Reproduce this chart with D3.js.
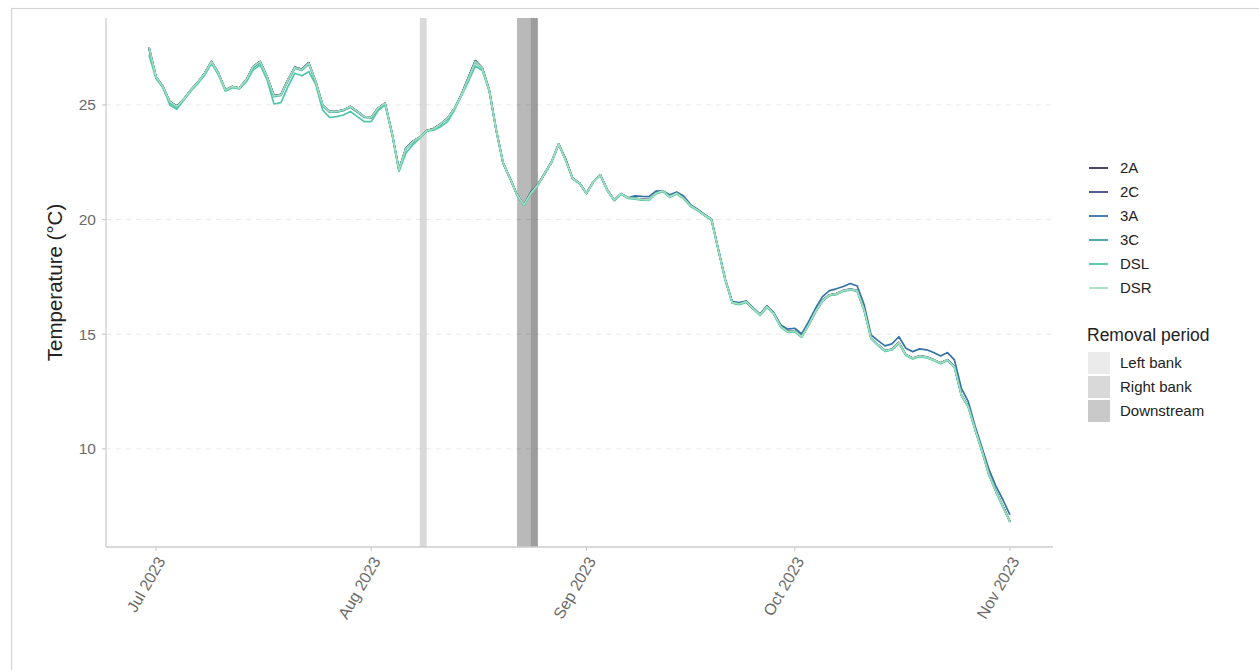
<!DOCTYPE html>
<html><head><meta charset="utf-8">
<script src="https://cdn.jsdelivr.net/npm/d3@7"></script>
<style>body{margin:0;background:#fff;} svg{display:block;font-family:"Liberation Sans",Arial,sans-serif;}</style>
</head><body><svg id="chart" width="1259" height="670"></svg>
<script>
// ---------------- DATA ----------------
const startDate = "2023-06-30";   // first daily reading; one value per day
const seriesNames = ["2A","2C","3A","3C","DSL","DSR"];
const seriesColors = ["#3b2f5e","#40498e","#3572a8","#37a3aa","#4fc6ab","#a0dfb9"];

const t2A = [
27.52,26.23,25.80,25.14,24.95,25.25,25.65,25.97,26.38,26.90,
26.38,25.65,25.80,25.73,26.09,26.68,26.90,26.23,25.41,25.46,
26.09,26.65,26.55,26.84,26.02,25.00,24.71,24.71,24.78,24.93,
24.71,24.49,24.46,24.86,25.08,23.77,22.17,23.13,23.42,23.60,
23.88,23.97,24.17,24.42,24.86,25.46,26.20,26.93,26.62,25.65,
23.91,22.46,21.80,21.08,20.64,21.20,21.53,22.02,22.53,23.30,
22.65,21.80,21.59,21.15,21.66,21.95,21.29,20.85,21.13,20.95,
20.93,20.89,20.87,21.16,21.26,21.01,21.16,20.94,20.61,20.43,
20.21,20.02,18.69,17.38,16.39,16.33,16.43,16.14,15.85,16.21,
15.90,15.34,15.12,15.15,14.90,15.42,16.00,16.48,16.72,16.77,
16.91,16.97,16.91,16.07,14.84,14.54,14.29,14.35,14.64,14.11,
13.96,14.06,14.01,13.89,13.75,13.89,13.60,12.36,11.85,10.84,
9.89,8.87,8.15,7.49,6.84];
const t2C = [
27.50,26.23,25.80,25.14,24.95,25.25,25.65,25.97,26.38,26.89,
26.38,25.65,25.80,25.73,26.09,26.67,26.89,26.23,25.40,25.45,
26.09,26.64,26.54,26.83,26.02,25.00,24.71,24.71,24.78,24.93,
24.71,24.49,24.46,24.86,25.08,23.77,22.17,23.12,23.41,23.59,
23.88,23.96,24.17,24.42,24.86,25.45,26.18,26.91,26.61,25.65,
23.91,22.46,21.80,21.08,20.64,21.18,21.52,22.02,22.53,23.30,
22.62,21.80,21.59,21.15,21.66,21.95,21.29,20.85,21.13,20.95,
20.92,20.88,20.86,21.15,21.25,21.00,21.15,20.93,20.60,20.42,
20.20,20.01,18.68,17.37,16.38,16.32,16.42,16.13,15.84,16.20,
15.89,15.33,15.11,15.14,14.89,15.41,15.99,16.47,16.71,16.76,
16.90,16.96,16.90,16.06,14.83,14.53,14.28,14.34,14.63,14.10,
13.95,14.05,14.00,13.88,13.74,13.88,13.59,12.35,11.84,10.83,
9.88,8.86,8.14,7.48,6.83];
const t3A = [
27.48,26.22,25.79,25.13,24.94,25.25,25.65,25.97,26.38,26.89,
26.38,25.65,25.80,25.73,26.09,26.67,26.89,26.23,25.40,25.45,
26.09,26.64,26.54,26.83,26.02,25.00,24.71,24.71,24.78,24.93,
24.71,24.49,24.46,24.86,25.08,23.77,22.17,23.12,23.41,23.59,
23.88,23.96,24.17,24.42,24.86,25.45,26.18,26.91,26.61,25.65,
23.91,22.46,21.80,21.08,20.64,21.18,21.52,22.02,22.53,23.30,
22.62,21.80,21.59,21.15,21.66,21.95,21.29,20.85,21.13,20.95,
21.03,21.01,21.00,21.24,21.25,21.08,21.20,21.03,20.65,20.45,
20.22,20.03,18.70,17.40,16.42,16.38,16.45,16.16,15.88,16.24,
15.93,15.40,15.22,15.26,15.01,15.55,16.13,16.64,16.90,16.98,
17.08,17.21,17.10,16.28,14.97,14.72,14.49,14.58,14.89,14.39,
14.24,14.36,14.32,14.20,14.05,14.20,13.88,12.64,12.06,10.97,
10.03,9.08,8.36,7.77,7.12];
const t3C = [
27.45,26.20,25.77,25.10,24.90,25.23,25.63,25.95,26.35,26.86,
26.35,25.63,25.78,25.72,26.06,26.63,26.85,26.20,25.36,25.41,
26.05,26.60,26.50,26.78,25.98,24.97,24.68,24.68,24.75,24.90,
24.68,24.46,24.43,24.83,25.06,23.75,22.15,23.09,23.38,23.58,
23.87,23.94,24.15,24.40,24.84,25.43,26.14,26.86,26.58,25.63,
23.90,22.45,21.79,21.07,20.63,21.14,21.50,22.01,22.52,23.29,
22.59,21.79,21.58,21.14,21.65,21.94,21.28,20.84,21.12,20.94,
20.91,20.87,20.85,21.14,21.24,20.99,21.14,20.92,20.59,20.41,
20.19,20.00,18.67,17.36,16.37,16.31,16.41,16.12,15.83,16.19,
15.88,15.32,15.10,15.13,14.88,15.40,15.98,16.46,16.70,16.75,
16.89,16.95,16.89,16.05,14.82,14.52,14.27,14.33,14.62,14.09,
13.94,14.04,13.99,13.87,13.73,13.87,13.58,12.34,11.83,10.82,
9.87,8.85,8.13,7.47,6.82];
const tDSL = [
27.18,26.15,25.75,25.00,24.81,25.20,25.60,25.92,26.30,26.80,
26.30,25.60,25.75,25.70,26.00,26.53,26.74,26.10,25.04,25.10,
25.80,26.38,26.27,26.45,25.90,24.78,24.45,24.49,24.56,24.71,
24.49,24.27,24.27,24.75,25.00,23.70,22.10,22.90,23.26,23.55,
23.85,23.90,24.05,24.27,24.78,25.40,26.02,26.70,26.50,25.60,
23.88,22.44,21.78,21.05,20.62,21.12,21.50,22.00,22.50,23.28,
22.58,21.78,21.56,21.12,21.64,21.93,21.26,20.82,21.10,20.92,
20.89,20.85,20.83,21.12,21.22,20.97,21.12,20.90,20.57,20.39,
20.17,19.98,18.65,17.34,16.35,16.29,16.39,16.10,15.81,16.17,
15.86,15.30,15.08,15.11,14.86,15.38,15.96,16.44,16.68,16.73,
16.87,16.93,16.87,16.03,14.80,14.50,14.25,14.31,14.60,14.07,
13.92,14.02,13.97,13.85,13.71,13.85,13.56,12.32,11.81,10.80,
9.85,8.83,8.11,7.45,6.80];
const tDSR = [
27.52,26.23,25.80,25.14,24.93,25.25,25.65,25.97,26.38,26.89,
26.38,25.65,25.80,25.73,26.09,26.67,26.89,26.23,25.39,25.44,
26.09,26.63,26.53,26.82,26.02,25.00,24.71,24.71,24.78,24.93,
24.71,24.49,24.46,24.86,25.08,23.77,22.17,23.11,23.40,23.59,
23.88,23.95,24.17,24.42,24.86,25.44,26.16,26.89,26.60,25.65,
23.91,22.46,21.80,21.08,20.64,21.15,21.51,22.02,22.53,23.30,
22.60,21.80,21.59,21.15,21.66,21.95,21.29,20.85,21.13,20.95,
20.92,20.88,20.86,21.15,21.25,21.00,21.15,20.93,20.60,20.42,
20.20,20.01,18.68,17.37,16.38,16.32,16.42,16.13,15.84,16.20,
15.89,15.33,15.11,15.14,14.89,15.41,15.99,16.47,16.71,16.76,
16.90,16.96,16.90,16.06,14.83,14.53,14.28,14.34,14.63,14.10,
13.95,14.05,14.00,13.88,13.74,13.88,13.59,12.35,11.84,10.83,
9.88,8.86,8.14,7.48,6.83];
const seriesValues = [t2A, t2C, t3A, t3C, tDSL, tDSR];

const yTicks = [10, 15, 20, 25];
const yDomain = [5.72, 28.79];
const xTickDates = ["2023-07-01","2023-08-01","2023-09-01","2023-10-01","2023-11-01"];
const xTickLabels = ["Jul 2023","Aug 2023","Sep 2023","Oct 2023","Nov 2023"];

const removalNames = ["Left bank","Right bank","Downstream"];
const removalOpacity = [0.078, 0.15, 0.212];
const removalPeriod = ["Right bank","Left bank","Downstream","Right bank"];
const removalStart  = ["2023-08-08","2023-08-22","2023-08-22","2023-08-24"];
const removalEnd    = ["2023-08-09","2023-08-25","2023-08-25","2023-08-25"];

// ---------------- DRAW ----------------
const parse = d3.timeParse("%Y-%m-%d");
const svg = d3.select("#chart");
const P = {l:106, r:1053, t:18, b:547};

svg.append("rect").attr("x",11.5).attr("y",8.5).attr("width",1400).attr("height",800)
  .attr("fill","none").attr("stroke","#d3d3d3").attr("stroke-width",1.2);

const d0 = parse(startDate);
const dates = d3.range(tDSR.length).map(i => d3.timeDay.offset(d0, i));
const ext = d3.extent(dates);
const span = ext[1] - ext[0];
const x = d3.scaleTime()
  .domain([new Date(+ext[0] - 0.05*span), new Date(+ext[1] + 0.05*span)])
  .range([P.l, P.r]);
const y = d3.scaleLinear().domain(yDomain).range([P.b, P.t]);

// grid
svg.append("g").selectAll("line").data(yTicks).join("line")
  .attr("x1",P.l).attr("x2",P.r).attr("y1",d=>y(d)).attr("y2",d=>y(d))
  .attr("stroke","#e8e8e8").attr("stroke-width",1).attr("stroke-dasharray","5,5");

// removal bands
svg.append("g").selectAll("rect").data(removalPeriod.map((p,i)=>({p, s:parse(removalStart[i]), e:parse(removalEnd[i])})))
  .join("rect")
  .attr("x",d=>x(d.s)).attr("width",d=>x(d.e)-x(d.s))
  .attr("y",P.t).attr("height",P.b-P.t)
  .attr("fill","#000").attr("fill-opacity",d=>removalOpacity[removalNames.indexOf(d.p)]);

// axes lines
svg.append("line").attr("x1",P.l).attr("x2",P.l).attr("y1",P.t).attr("y2",P.b)
  .attr("stroke","#cccccc").attr("stroke-width",1.3);
svg.append("line").attr("x1",P.l).attr("x2",P.r).attr("y1",P.b).attr("y2",P.b)
  .attr("stroke","#cccccc").attr("stroke-width",1.3);

// y ticks
const yg = svg.append("g");
yg.selectAll("line").data(yTicks).join("line")
  .attr("x1",P.l-4).attr("x2",P.l).attr("y1",d=>y(d)).attr("y2",d=>y(d))
  .attr("stroke","#cccccc").attr("stroke-width",1.2);
yg.selectAll("text").data(yTicks).join("text")
  .attr("x",P.l-10).attr("y",d=>y(d)).attr("dy","0.36em")
  .attr("text-anchor","end").attr("font-size",15.5).attr("fill","#6b6b6b").text(d=>d);

// x ticks
const xg = svg.append("g");
const xt = xTickDates.map((d,i)=>({d:parse(d), label:xTickLabels[i]}));
xg.selectAll("line").data(xt).join("line")
  .attr("x1",d=>x(d.d)).attr("x2",d=>x(d.d)).attr("y1",P.b).attr("y2",P.b+4)
  .attr("stroke","#cccccc").attr("stroke-width",1.2);
xg.selectAll("text").data(xt).join("text")
  .attr("transform",d=>`translate(${x(d.d)+10},${P.b+14}) rotate(-60)`)
  .attr("text-anchor","end").attr("font-size",16).attr("fill","#6b6b6b").text(d=>d.label);

// y title
svg.append("text").attr("transform",`translate(62,${(P.t+P.b)/2}) rotate(-90)`)
  .attr("text-anchor","middle").attr("font-size",20.5).attr("fill","#222").text("Temperature (°C)");

// lines
const line = d3.line().x((d,i)=>x(dates[i])).y(d=>y(d));
svg.append("g").selectAll("path").data(seriesValues).join("path")
  .attr("d",d=>line(d)).attr("fill","none")
  .attr("stroke",(d,i)=>seriesColors[i]).attr("stroke-width",1.7)
  .attr("stroke-linejoin","round");

// legend: series
const lg = svg.append("g");
seriesNames.forEach((n,i)=>{
  const yy = 168 + i*24;
  lg.append("line").attr("x1",1089).attr("x2",1108).attr("y1",yy).attr("y2",yy)
    .attr("stroke",seriesColors[i]).attr("stroke-width",1.8);
  lg.append("text").attr("x",1120).attr("y",yy).attr("dy","0.36em")
    .attr("font-size",15).attr("fill","#222").text(n);
});
// legend: removal
lg.append("text").attr("x",1087).attr("y",335).attr("dy","0.36em")
  .attr("font-size",17.5).attr("fill","#222").text("Removal period");
removalNames.forEach((n,i)=>{
  const yy = 352 + i*24;
  lg.append("rect").attr("x",1088).attr("y",yy).attr("width",22).attr("height",22)
    .attr("fill","#000").attr("fill-opacity",removalOpacity[i]);
  lg.append("text").attr("x",1120).attr("y",yy+11).attr("dy","0.36em")
    .attr("font-size",15).attr("fill","#222").text(n);
});
</script></body></html>
